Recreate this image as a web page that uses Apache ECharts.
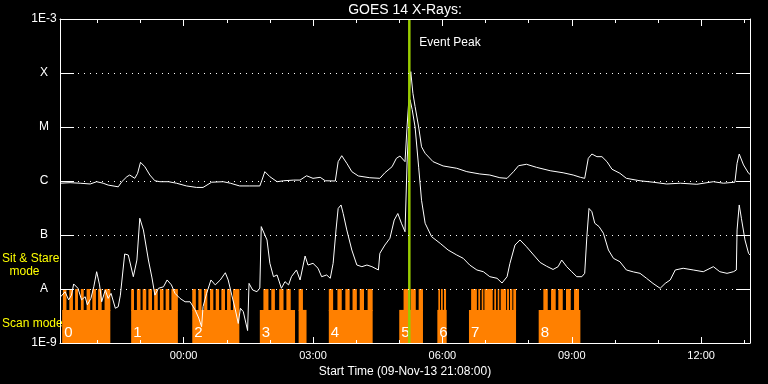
<!DOCTYPE html>
<html><head><meta charset="utf-8">
<script src="https://cdn.jsdelivr.net/npm/echarts@6/dist/echarts.min.js"></script>
<style>html,body{margin:0;padding:0;background:#000;}#c{width:768px;height:384px;}</style>
</head><body><div id="c"></div>
<script>
// ---------- data ----------
const chartTitle = 'GOES 14 X-Rays:';
const xAxisName = 'Start Time (09-Nov-13 21:08:00)';
const axisStartTime = '21:08';
const axisEndTime = '13:08';
const majorTickTimes = ['00:00', '03:00', '06:00', '09:00', '12:00'];
const majorTickLabels = ['00:00', '03:00', '06:00', '09:00', '12:00'];
const minorTickTimes = ['22:00', '23:00', '01:00', '02:00', '04:00', '05:00', '07:00', '08:00', '10:00', '11:00', '13:00'];
const yTickValues = [1e-9, 1e-8, 1e-7, 1e-6, 1e-5, 1e-4, 1e-3];
const yTickLabels = ['1E-9', 'A', 'B', 'C', 'M', 'X', '1E-3'];
const eventPeakTime = '05:14';
const eventPeakLabel = 'Event Peak';
const sitStareLabel = 'Sit & Stare';
const sitStareLabel2 = 'mode';
const scanModeLabel = 'Scan mode';

// GOES long channel (1-8 A)
const longChannel = [
  ['21:08', 9.1e-7], ['21:22', 9.3e-7], ['21:36', 9.1e-7], ['21:50', 8.8e-7], ['21:59', 9.7e-7], ['22:08', 9.1e-7],
  ['22:15', 8.4e-7], ['22:29', 7.8e-7], ['22:34', 9.7e-7], ['22:41', 1.2e-6], ['22:45', 1.29e-6], ['22:52', 1.12e-6],
  ['22:56', 1.39e-6], ['23:00', 2.22e-6], ['23:06', 1.84e-6], ['23:13', 1.29e-6], ['23:20', 1.01e-6], ['23:27', 9.7e-7],
  ['23:39', 9.7e-7], ['23:50', 9.1e-7], ['00:04', 8.1e-7], ['00:18', 7.6e-7], ['00:27', 7.6e-7], ['00:39', 9.5e-7],
  ['00:55', 9.7e-7], ['01:05', 9.1e-7], ['01:18', 8.1e-7], ['01:32', 8.1e-7], ['01:46', 8.1e-7], ['01:49', 1.04e-6],
  ['01:53', 1.49e-6], ['02:00', 1.2e-6], ['02:10', 9.7e-7], ['02:19', 1.01e-6], ['02:33', 1.04e-6], ['02:42', 1.04e-6],
  ['02:51', 1.25e-6], ['03:00', 1.12e-6], ['03:10', 1.17e-6], ['03:17', 1.01e-6], ['03:31', 1.0e-6], ['03:35', 2.28e-6],
  ['03:40', 2.94e-6], ['03:47', 2.13e-6], ['03:54', 1.49e-6], ['04:03', 1.24e-6], ['04:19', 1.15e-6], ['04:33', 1.12e-6],
  ['04:40', 1.42e-6], ['04:50', 1.84e-6], ['04:56', 2.63e-6], ['05:01', 2.9e-6], ['05:08', 2.28e-6], ['05:11', 1.09e-5],
  ['05:16', 1.06e-4], ['05:19', 4.2e-5], ['05:22', 2.4e-5], ['05:27', 1.0e-5], ['05:31', 4.3e-6], ['05:36', 3.26e-6],
  ['05:47', 2.28e-6], ['06:01', 1.9e-6], ['06:20', 1.72e-6], ['06:34', 1.49e-6], ['06:52', 1.35e-6], ['07:06', 1.29e-6],
  ['07:20', 1.15e-6], ['07:30', 1.12e-6], ['07:39', 1.49e-6], ['07:46', 1.92e-6], ['07:57', 2.04e-6], ['08:11', 1.79e-6],
  ['08:30', 1.55e-6], ['08:48', 1.42e-6], ['09:02', 1.29e-6], ['09:12', 1.17e-6], ['09:18', 1.12e-6], ['09:23', 2.63e-6],
  ['09:28', 3.16e-6], ['09:35', 2.82e-6], ['09:42', 2.82e-6], ['09:49', 2.28e-6], ['09:56', 1.65e-6], ['10:07', 1.39e-6],
  ['10:16', 1.12e-6], ['10:35', 1.01e-6], ['10:53', 9.5e-7], ['11:12', 8.8e-7], ['11:31', 9.1e-7], ['11:54', 8.7e-7],
  ['12:17', 9.7e-7], ['12:31', 9.1e-7], ['12:47', 9.5e-7], ['12:50', 2.13e-6], ['12:53', 3.16e-6], ['12:59', 1.98e-6],
  ['13:06', 1.39e-6], ['13:08', 1.33e-6]
];

// GOES short channel (0.5-4 A)
const shortChannel = [
  ['21:09', 7.2e-9], ['21:15', 8.9e-9], ['21:20', 6.3e-9], ['21:24', 7.7e-9], ['21:27', 1.24e-8], ['21:33', 1.03e-8],
  ['21:38', 6.3e-9], ['21:43', 7.2e-9], ['21:46', 5.1e-9], ['21:51', 6.7e-9], ['21:55', 1.1e-8], ['21:59', 2.09e-8],
  ['22:03', 1.19e-8], ['22:06', 5.8e-9], ['22:11', 9.6e-9], ['22:15', 6.7e-9], ['22:19', 8.3e-9], ['22:25', 4.4e-9],
  ['22:29', 4.7e-9], ['22:32', 7.7e-9], ['22:38', 4.45e-8], ['22:43', 4.26e-8], ['22:50', 1.69e-8], ['22:55', 3.44e-8],
  ['22:59', 2.04e-7], ['23:04', 1.24e-7], ['23:11', 3.44e-8], ['23:16', 1.6e-8], ['23:20', 7.7e-9], ['23:25', 1.03e-8],
  ['23:32', 1.1e-8], ['23:37', 1.47e-8], ['23:43', 1.19e-8], ['23:48', 8.3e-9], ['23:55', 6.7e-9], ['00:02', 5.8e-9],
  ['00:09', 5.8e-9], ['00:16', 4.1e-9], ['00:21', 2.9e-9], ['00:25', 2.0e-9], ['00:27', 4.7e-9], ['00:32', 8.3e-9],
  ['00:38', 1.47e-8], ['00:44', 1.19e-8], ['00:51', 1.47e-8], ['00:58', 2.0e-8], ['01:02', 1.47e-8], ['01:07', 7.7e-9],
  ['01:12', 4.1e-9], ['01:16', 2.3e-9], ['01:19', 4.4e-9], ['01:23', 3.8e-9], ['01:29', 1.7e-9], ['01:31', 1.27e-8],
  ['01:36', 9.6e-9], ['01:42', 8.9e-9], ['01:46', 1.04e-8], ['01:48', 1.43e-7], ['01:56', 8.1e-8], ['02:00', 2.99e-8],
  ['02:05', 1.69e-8], ['02:10', 1.82e-8], ['02:16', 1.03e-8], ['02:21', 1.37e-8], ['02:26', 1.19e-8], ['02:30', 1.69e-8],
  ['02:37', 2.25e-8], ['02:42', 1.47e-8], ['02:49', 4.08e-8], ['02:53', 2.78e-8], ['03:00', 2.99e-8], ['03:07', 2.42e-8],
  ['03:12', 1.69e-8], ['03:19', 1.82e-8], ['03:24', 1.58e-8], ['03:28', 2.99e-8], ['03:32', 1.24e-7], ['03:35', 3.1e-7],
  ['03:39', 3.6e-7], ['03:42', 2.5e-7], ['03:47', 1.24e-7], ['03:54', 5.27e-8], ['04:01', 2.78e-8], ['04:08', 2.59e-8],
  ['04:15', 2.78e-8], ['04:22', 2.59e-8], ['04:31', 2.25e-8], ['04:33', 4.58e-8], ['04:40', 6.52e-8], ['04:47', 8.7e-8],
  ['04:53', 1.89e-7], ['04:58', 2.5e-7], ['05:03', 1.65e-7], ['05:08', 1.15e-7], ['05:11', 2.45e-6], ['05:15', 3.2e-5],
  ['05:18', 2.1e-5], ['05:22', 1.0e-5], ['05:27', 1.8e-6], ['05:31', 4.4e-7], ['05:36', 1.65e-7], ['05:45', 9.3e-8],
  ['05:57', 7.0e-8], ['06:08', 5.27e-8], ['06:20', 4.26e-8], ['06:29', 3.7e-8], ['06:38', 2.78e-8], ['06:48', 2.25e-8],
  ['06:57', 2.09e-8], ['07:06', 1.69e-8], ['07:16', 1.58e-8], ['07:23', 1.29e-8], ['07:30', 1.69e-8], ['07:34', 2.99e-8],
  ['07:41', 6.52e-8], ['07:48', 8.1e-8], ['07:57', 6.07e-8], ['08:07', 4.26e-8], ['08:16', 3.1e-8], ['08:25', 2.64e-8],
  ['08:34', 2.3e-8], ['08:41', 2.59e-8], ['08:46', 3.44e-8], ['08:53', 2.59e-8], ['09:00', 2.09e-8], ['09:07', 1.69e-8],
  ['09:14', 1.69e-8], ['09:18', 1.95e-8], ['09:21', 9.3e-8], ['09:24', 3.1e-7], ['09:28', 2.7e-7], ['09:32', 1.65e-7],
  ['09:38', 1.43e-7], ['09:44', 1.08e-7], ['09:51', 5.27e-8], ['09:58', 3.7e-8], ['10:07', 3.2e-8], ['10:16', 2.25e-8],
  ['10:26', 2.07e-8], ['10:35', 1.95e-8], ['10:44', 1.58e-8], ['10:53', 1.27e-8], ['11:03', 1.03e-8], ['11:10', 1.27e-8],
  ['11:17', 1.47e-8], ['11:24', 2.25e-8], ['11:35', 2.42e-8], ['11:49', 2.25e-8], ['12:03', 2.09e-8], ['12:17', 2.59e-8],
  ['12:26', 2.09e-8], ['12:36', 1.95e-8], ['12:45', 2.09e-8], ['12:49', 2.25e-8], ['12:50', 1.24e-7], ['12:53', 3.6e-7],
  ['12:56', 2.04e-7], ['13:01', 8.1e-8], ['13:06', 4.58e-8], ['13:08', 4.26e-8]
];

// IRIS scan-mode periods (orange blocks) and their raster steps (teeth)
const scanBlocks = [
  ['21:11', '22:18'], ['22:47', '23:52'], ['00:12', '01:17:30'], ['01:46', '02:35'], ['02:40', '02:51'],
  ['03:22', '04:23'], ['05:00', '05:33'], ['05:53', '06:06'], ['06:37', '07:42:30'], ['08:14', '09:12']
];
const scanBlockLabels = ['0', '1', '2', '3', '', '4', '5', '6', '7', '8'];
const scanTeeth = [
  ['21:12', '21:17'], ['21:21', '21:26'], ['21:29', '21:33'], ['21:37', '21:41'], ['21:45', '21:50'], ['21:53', '21:58'], ['22:01', '22:06'], ['22:10', '22:18'],
  ['22:47', '22:51'], ['22:55', '23:00'], ['23:03', '23:08'], ['23:11', '23:16'], ['23:19', '23:24'], ['23:27', '23:32'], ['23:35', '23:40'], ['23:43', '23:52'],
  ['00:12', '00:17'], ['00:20:30', '00:25'], ['00:28:30', '00:33'], ['00:36:45', '00:41:20'], ['00:44:40', '00:49:20'], ['00:52:30', '00:57:36'], ['01:00:24', '01:05:30'], ['01:08:45', '01:17:30'],
  ['01:51', '01:58'], ['02:02', '02:07'], ['02:13', '02:19'], ['02:23', '02:29'], ['02:40', '02:46'],
  ['03:22', '03:28'], ['03:34', '03:40'], ['03:45', '03:51'], ['03:55', '04:01'], ['04:05', '04:11'], ['04:16', '04:23'],
  ['05:06', '05:13'], ['05:16', '05:23'], ['05:27', '05:33'],
  ['05:54:24', '05:56:42'], ['05:58:06', '06:00:30'], ['06:02:18', '06:05:06'],
  ['06:40', '06:48'], ['06:50', '06:52:30'], ['06:54:45', '06:57'], ['06:58:30', '07:10'], ['07:12:15', '07:14:40'], ['07:17', '07:19:10'], ['07:21:10', '07:28:40'], ['07:30', '07:32:40'], ['07:34:05', '07:37:20'], ['07:38:40', '07:42:30'],
  ['08:20:30', '08:26:36'], ['08:31:12', '08:37:42'], ['08:41:18', '08:47:30'], ['08:52', '08:58:36'], ['09:03:12', '09:10:06']
];
const scanFloorLevel = 1e-9;
const scanBaseLevel = 4.1e-9;
const scanTopLevel = 1e-8;

// ---------- helpers ----------
// minutes relative to 10-Nov-13 00:00 (times from 20:00 onward belong to 09-Nov)
function toMin(s) {
  const p = s.split(':').map(Number);
  let m = p[0] * 60 + p[1] + (p[2] || 0) / 60;
  if (p[0] >= 20) m -= 1440;
  return m;
}
const xMin = toMin(axisStartTime), xMax = toMin(axisEndTime);
const majorMins = majorTickTimes.map(toMin);
const minorMins = minorTickTimes.map(toMin);
const yMin = yTickValues[0], yMax = yTickValues[yTickValues.length - 1];
const FONT = 'Liberation Sans';
const WHITE = '#ffffff';

const chart = echarts.init(document.getElementById('c'), null, {renderer: 'canvas'});

function xAxisDef(pos, ticks, len, opts) {
  return Object.assign({
    type: 'value', gridIndex: 0, position: pos, min: xMin, max: xMax,
    axisLine: {show: false, onZero: false, lineStyle: {color: WHITE, width: 1}},
    axisTick: {show: true, inside: true, length: len, customValues: ticks, lineStyle: {color: WHITE, width: 1}},
    axisLabel: {show: false},
    splitLine: {show: false}
  }, opts || {});
}

const option = {
  backgroundColor: '#000000',
  animation: false,
  textStyle: {fontFamily: FONT},
  grid: {left: 60, top: 19, width: 690, height: 324, containLabel: false},
  graphic: [
    {type: 'text', x: 405, y: 10, style: {text: chartTitle, fill: WHITE, font: '14px ' + FONT, textAlign: 'center', textVerticalAlign: 'middle'}},
    {type: 'text', x: 2, y: 259, style: {text: sitStareLabel, fill: '#ffff00', font: '12px ' + FONT, textAlign: 'left', textVerticalAlign: 'middle'}},
    {type: 'text', x: 24.5, y: 271.5, style: {text: sitStareLabel2, fill: '#ffff00', font: '12px ' + FONT, textAlign: 'center', textVerticalAlign: 'middle'}},
    {type: 'text', x: 2, y: 324, style: {text: scanModeLabel, fill: '#ffff00', font: '12px ' + FONT, textAlign: 'left', textVerticalAlign: 'middle'}}
  ],
  xAxis: [
    xAxisDef('bottom', majorMins, 6, {
      axisLine: {show: true, onZero: false, lineStyle: {color: WHITE, width: 1}},
      axisLabel: {show: true, customValues: majorMins, color: WHITE, fontSize: 11, fontFamily: FONT, margin: 7,
        formatter: v => { const i = majorMins.indexOf(v); return i >= 0 ? majorTickLabels[i] : ''; }},
      name: xAxisName, nameLocation: 'middle', nameGap: 19,
      nameTextStyle: {color: WHITE, fontSize: 12, fontFamily: FONT, verticalAlign: 'top'},
      z: 10
    }),
    xAxisDef('bottom', minorMins, 3, {z: 10}),
    xAxisDef('top', majorMins, 7, {axisLine: {show: true, onZero: false, lineStyle: {color: WHITE, width: 1}}, z: 10}),
    xAxisDef('top', minorMins, 4, {z: 10})
  ],
  yAxis: [
    {
      type: 'log', logBase: 10, min: yMin, max: yMax, splitNumber: 6, position: 'left', z: 10,
      axisLine: {show: true, onZero: false, lineStyle: {color: WHITE, width: 1}},
      axisTick: {show: true, inside: true, length: 14, lineStyle: {color: WHITE, width: 1}},
      minorTick: {show: false},
      axisLabel: {
        show: true, color: WHITE, fontSize: 12, fontFamily: FONT, align: 'center', margin: 16,
        formatter: v => {
          const e = Math.round(Math.log10(v));
          const i = yTickValues.findIndex(t => Math.round(Math.log10(t)) === e);
          return i >= 0 ? yTickLabels[i] : '';
        }
      },
      splitLine: {show: true, lineStyle: {color: WHITE, width: 1, type: [1, 5]}}
    },
    {
      type: 'log', logBase: 10, min: yMin, max: yMax, splitNumber: 6, position: 'right', z: 10,
      axisLine: {show: true, onZero: false, lineStyle: {color: WHITE, width: 1}},
      axisTick: {show: true, inside: true, length: 14, lineStyle: {color: WHITE, width: 1}},
      axisLabel: {show: false},
      splitLine: {show: false}
    }
  ],
  series: [
    {
      type: 'custom', name: 'scan blocks', xAxisIndex: 0, yAxisIndex: 0, clip: true, z: 1,
      encode: {x: [0, 1]},
      data: scanBlocks.map((b, i) => [toMin(b[0]), toMin(b[1]), i]),
      renderItem: (params, api) => {
        const p0 = api.coord([api.value(0), scanFloorLevel]);
        const p1 = api.coord([api.value(1), scanBaseLevel]);
        const label = scanBlockLabels[api.value(2)];
        return {
          type: 'group', children: [
            {type: 'rect', shape: {x: p0[0], y: p1[1], width: p1[0] - p0[0], height: p0[1] - p1[1]}, style: {fill: '#ff8000'}},
            {type: 'text', x: p0[0] + 2, y: p0[1] - 10.5, style: {text: label, fill: WHITE, font: '15px ' + FONT, textAlign: 'left', textVerticalAlign: 'middle'}, z2: 5}
          ]
        };
      }
    },
    {
      type: 'custom', name: 'scan teeth', xAxisIndex: 0, yAxisIndex: 0, clip: true, z: 1,
      encode: {x: [0, 1]},
      data: scanTeeth.map(b => [toMin(b[0]), toMin(b[1])]),
      renderItem: (params, api) => {
        const p0 = api.coord([api.value(0), scanBaseLevel]);
        const p1 = api.coord([api.value(1), scanTopLevel]);
        return {type: 'rect', shape: {x: p0[0], y: p1[1], width: p1[0] - p0[0], height: p0[1] - p1[1] + 1}, style: {fill: '#ff8000'}};
      }
    },
    {
      type: 'line', name: 'long', xAxisIndex: 0, yAxisIndex: 0, z: 2,
      data: longChannel.map(d => [toMin(d[0]), d[1]]),
      showSymbol: false, symbol: 'none', smooth: false,
      lineStyle: {color: WHITE, width: 1}
    },
    {
      type: 'line', name: 'short', xAxisIndex: 0, yAxisIndex: 0, z: 2,
      data: shortChannel.map(d => [toMin(d[0]), d[1]]),
      showSymbol: false, symbol: 'none', smooth: false,
      lineStyle: {color: WHITE, width: 1}
    },
    {
      type: 'custom', name: 'event peak', xAxisIndex: 0, yAxisIndex: 0, z: 5,
      encode: {x: 0},
      data: [[toMin(eventPeakTime)]],
      renderItem: (params, api) => {
        const top = api.coord([api.value(0), yMax]);
        const bot = api.coord([api.value(0), yMin]);
        return {
          type: 'group', children: [
            {type: 'line', shape: {x1: top[0], y1: top[1], x2: bot[0], y2: bot[1]}, style: {stroke: '#99cc00', lineWidth: 2.5}},
            {type: 'text', x: top[0] + 10, y: top[1] + 24, style: {text: eventPeakLabel, fill: WHITE, font: '12px ' + FONT, textAlign: 'left', textVerticalAlign: 'middle'}}
          ]
        };
      }
    }
  ]
};
chart.setOption(option);
</script>
</body></html>
